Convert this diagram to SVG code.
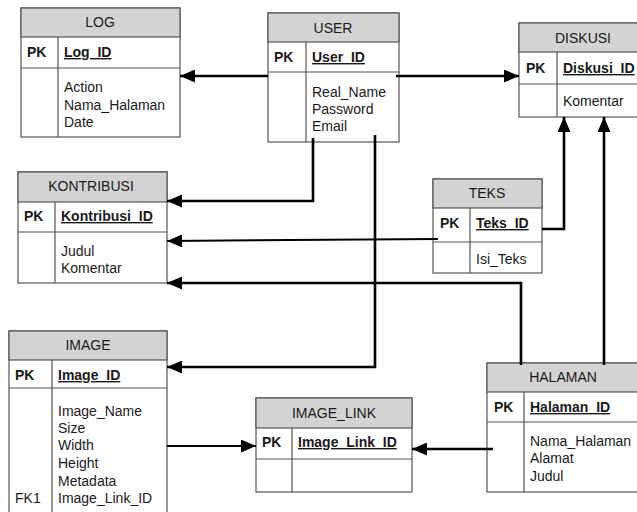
<svg xmlns="http://www.w3.org/2000/svg" width="637" height="512" viewBox="0 0 637 512">
  <style>
    .box { fill: #ffffff; stroke: #555555; stroke-width: 1.2; }
    .hdr { fill: #d3d3d3; stroke: #555555; stroke-width: 1.2; }
    .sep { stroke: #555555; stroke-width: 1.2; fill: none; }
    text { font-family: "Liberation Sans", Arial, sans-serif; font-size: 14px; fill: #1a1a1a; }
    .title { text-anchor: middle; }
    .pk { font-weight: bold; }
    .key { font-weight: bold; text-decoration: underline; }
    .conn { fill: none; stroke: #000000; stroke-width: 2.6; }
    .thin { stroke-width: 2; }
  </style>
  <defs>
    <marker id="arrow" markerUnits="userSpaceOnUse" markerWidth="16" markerHeight="13" refX="15" refY="6.5" orient="auto">
      <path d="M0,0 L15,6.5 L0,13 z" fill="#000000"/>
    </marker>
  </defs>
  <rect width="637" height="512" fill="#ffffff"/>

  <!-- LOG -->
  <g id="log">
    <rect class="box" x="21" y="8" width="159" height="129"/>
    <rect class="hdr" x="21" y="8" width="159" height="29"/>
    <line class="sep" x1="21" y1="68" x2="180" y2="68"/>
    <line class="sep" x1="58" y1="37" x2="58" y2="137"/>
    <text class="title" x="100" y="27">LOG</text>
    <text class="pk" x="27" y="57">PK</text>
    <text class="key" x="64" y="57">Log_ID</text>
    <text x="64" y="92">Action</text>
    <text x="64" y="110">Nama_Halaman</text>
    <text x="64" y="127">Date</text>
  </g>

  <!-- USER -->
  <g id="user">
    <rect class="box" x="268" y="13" width="131" height="129"/>
    <rect class="hdr" x="268" y="13" width="131" height="29"/>
    <line class="sep" x1="268" y1="72" x2="399" y2="72"/>
    <line class="sep" x1="306" y1="42" x2="306" y2="142"/>
    <text class="title" x="333" y="33">USER</text>
    <text class="pk" x="274" y="62">PK</text>
    <text class="key" x="312" y="62">User_ID</text>
    <text x="312" y="97">Real_Name</text>
    <text x="312" y="114">Password</text>
    <text x="312" y="131">Email</text>
  </g>

  <!-- DISKUSI -->
  <g id="diskusi">
    <rect class="box" x="519" y="23" width="130" height="94"/>
    <rect class="hdr" x="519" y="23" width="130" height="29"/>
    <line class="sep" x1="519" y1="84" x2="649" y2="84"/>
    <line class="sep" x1="557" y1="52" x2="557" y2="117"/>
    <text class="title" x="583" y="43">DISKUSI</text>
    <text class="pk" x="526" y="73">PK</text>
    <text class="key" x="563" y="73">Diskusi_ID</text>
    <text x="563" y="106">Komentar</text>
  </g>

  <!-- KONTRIBUSI -->
  <g id="kontribusi">
    <rect class="box" x="18" y="172" width="149" height="111"/>
    <rect class="hdr" x="18" y="172" width="149" height="30"/>
    <line class="sep" x1="18" y1="232" x2="167" y2="232"/>
    <line class="sep" x1="55" y1="202" x2="55" y2="283"/>
    <text class="title" x="91" y="191">KONTRIBUSI</text>
    <text class="pk" x="24" y="221">PK</text>
    <text class="key" x="61" y="221">Kontribusi_ID</text>
    <text x="61" y="256">Judul</text>
    <text x="61" y="273">Komentar</text>
  </g>

  <!-- TEKS -->
  <g id="teks">
    <rect class="box" x="433" y="179" width="109" height="94"/>
    <rect class="hdr" x="433" y="179" width="109" height="29"/>
    <line class="sep" x1="433" y1="242" x2="542" y2="242"/>
    <line class="sep" x1="470" y1="208" x2="470" y2="273"/>
    <text class="title" x="487" y="198">TEKS</text>
    <text class="pk" x="440" y="228">PK</text>
    <text class="key" x="476" y="228">Teks_ID</text>
    <text x="476" y="264">Isi_Teks</text>
  </g>

  <!-- IMAGE -->
  <g id="image">
    <rect class="box" x="9" y="331" width="158" height="200"/>
    <rect class="hdr" x="9" y="331" width="158" height="29"/>
    <line class="sep" x1="9" y1="388" x2="167" y2="388"/>
    <line class="sep" x1="52" y1="360" x2="52" y2="531"/>
    <text class="title" x="88" y="350">IMAGE</text>
    <text class="pk" x="15" y="380">PK</text>
    <text class="key" x="58" y="380">Image_ID</text>
    <text x="58" y="416">Image_Name</text>
    <text x="58" y="433">Size</text>
    <text x="58" y="450">Width</text>
    <text x="58" y="468">Height</text>
    <text x="58" y="486">Metadata</text>
    <text x="15" y="503">FK1</text>
    <text x="58" y="503">Image_Link_ID</text>
  </g>

  <!-- IMAGE_LINK -->
  <g id="image_link">
    <rect class="box" x="256" y="398" width="156" height="94"/>
    <rect class="hdr" x="256" y="398" width="156" height="30"/>
    <line class="sep" x1="256" y1="459" x2="412" y2="459"/>
    <line class="sep" x1="292" y1="428" x2="292" y2="492"/>
    <text class="title" x="334" y="418">IMAGE_LINK</text>
    <text class="pk" x="262" y="447">PK</text>
    <text class="key" x="298" y="447">Image_Link_ID</text>
  </g>

  <!-- HALAMAN -->
  <g id="halaman">
    <rect class="box" x="487" y="363" width="160" height="129"/>
    <rect class="hdr" x="487" y="363" width="160" height="29"/>
    <line class="sep" x1="487" y1="422" x2="647" y2="422"/>
    <line class="sep" x1="524" y1="392" x2="524" y2="492"/>
    <text class="title" x="563" y="382">HALAMAN</text>
    <text class="pk" x="494" y="412">PK</text>
    <text class="key" x="530" y="412">Halaman_ID</text>
    <text x="530" y="446">Nama_Halaman</text>
    <text x="530" y="463">Alamat</text>
    <text x="530" y="481">Judul</text>
  </g>

  <!-- relationships -->
  <g id="connectors">
    <path class="conn" d="M268 76 H180" marker-end="url(#arrow)"/>
    <path class="conn" d="M396 76 H519" marker-end="url(#arrow)"/>
    <path class="conn" d="M313 138 V201 H167" marker-end="url(#arrow)"/>
    <path class="conn" d="M375 135 V367 H167" marker-end="url(#arrow)"/>
    <path class="conn thin" d="M438 239 L167 241" marker-end="url(#arrow)"/>
    <path class="conn" d="M542 229 H564 V117" marker-end="url(#arrow)"/>
    <path class="conn" d="M521 365 V283 H167" marker-end="url(#arrow)"/>
    <path class="conn" d="M604 365 V117" marker-end="url(#arrow)"/>
    <path class="conn" d="M493 449 H412" marker-end="url(#arrow)"/>
    <path class="conn thin" d="M167 446 H256" marker-end="url(#arrow)"/>
  </g>
</svg>
